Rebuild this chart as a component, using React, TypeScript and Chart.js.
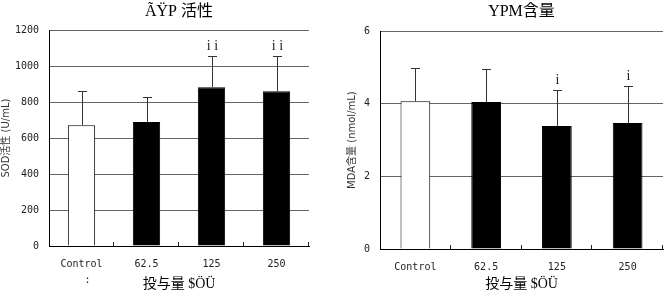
import React, { useEffect, useRef } from 'react';
import { Chart, registerables } from 'chart.js';

Chart.register(...registerables);

// ---- data ----
const categories = ['Control', '62.5', '125', '250'];
const barColors = ['#ffffff', '#000000', '#000000', '#000000'];

const sodTitle = 'ÃŸP 活性';
const sodAxisTitle = 'SOD活性 (U/mL)';
const sodValues = [672, 689, 883, 861];
const sodErrors = [189, 139, 173, 195];
const sodMarks = ['', '', 'i i', 'i i'];
const sodMin = 0;
const sodMax = 1200;
const sodStep = 200;

const mdaTitle = 'YPM含量';
const mdaAxisTitle = 'MDA含量 (nmol/mL)';
const mdaValues = [4.07, 4.05, 3.39, 3.47];
const mdaErrors = [0.93, 0.9, 0.99, 1.02];
const mdaMarks = ['', '', 'i', 'i'];
const mdaMin = 0;
const mdaMax = 6;
const mdaStep = 2;

const xAxisTitle = '投与量 $ÖÜ';
const controlNote = '  :';

const MONO = "'DejaVu Sans Mono', monospace";
const SERIF_CJK = "'Liberation Serif', 'Noto Sans CJK JP', serif";
const SANS_CJK = "'DejaVu Sans', 'Noto Sans CJK JP', sans-serif";

type PanelProps = {
  title: string;
  axisTitle: string;
  values: number[];
  errors: number[];
  marks: string[];
  min: number;
  max: number;
  step: number;
  labels: (string | string[])[];
  yAxisWidth: number;
  yTitlePad: number;
  xAxisHeight: number;
  padRight: number;
  titleBottomPad: number;
  left: number;
};

function makeExtras(values: number[], errors: number[], marks: string[]) {
  return {
    id: 'extras',
    afterDatasetsDraw(chart: any) {
      const { ctx } = chart;
      const meta = chart.getDatasetMeta(0);
      const ys = chart.scales.y;
      ctx.save();
      ctx.strokeStyle = '#333';
      ctx.lineWidth = 1;
      meta.data.forEach((bar: any, i: number) => {
        const top = Math.round(ys.getPixelForValue(values[i] + errors[i])) + 0.5;
        const x = Math.round(bar.x) + 0.5;
        ctx.beginPath();
        ctx.moveTo(x, bar.y);
        ctx.lineTo(x, top);
        ctx.moveTo(x - 4.5, top);
        ctx.lineTo(x + 4.5, top);
        ctx.stroke();
        if (marks[i]) {
          ctx.fillStyle = '#222';
          ctx.font = "14px 'Liberation Serif', serif";
          ctx.textAlign = 'center';
          ctx.textBaseline = 'bottom';
          ctx.fillText(marks[i], x, top - 3);
        }
      });
      const xs = chart.scales.x;
      const n = categories.length;
      ctx.strokeStyle = '#222';
      ctx.beginPath();
      for (let i = 1; i <= n; i++) {
        const px = Math.round(xs.left + (xs.width * i) / n) - 0.5;
        ctx.moveTo(px, xs.top);
        ctx.lineTo(px, xs.top - 4);
      }
      ctx.stroke();
      ctx.restore();
    },
  };
}

function Panel(p: PanelProps) {
  const ref = useRef<HTMLCanvasElement | null>(null);
  useEffect(() => {
    if (!ref.current) return;
    const chart = new Chart(ref.current, {
      type: 'bar',
      data: {
        labels: p.labels as any,
        datasets: [
          {
            data: p.values,
            backgroundColor: barColors,
            borderColor: '#000',
            borderWidth: 1,
            barPercentage: 1,
            categoryPercentage: 0.42,
          },
        ],
      },
      options: {
        animation: false,
        responsive: false,
        layout: { padding: { left: 0, right: p.padRight, top: 0, bottom: 0 } },
        plugins: {
          legend: { display: false },
          tooltip: { enabled: false },
          title: {
            display: true,
            text: p.title,
            fullSize: false,
            color: '#000',
            font: { family: SERIF_CJK, size: 16, weight: 'normal' },
            padding: { top: 2, bottom: p.titleBottomPad },
          },
        },
        scales: {
          x: {
            grid: { display: false },
            border: { display: true, color: '#000', width: 1 },
            ticks: {
              color: '#222',
              font: { family: MONO, size: 10, lineHeight: 1.6 },
              padding: 2,
              maxRotation: 0,
            },
            title: {
              display: true,
              text: xAxisTitle,
              color: '#000',
              font: { family: SERIF_CJK, size: 14 },
              padding: { top: 0, bottom: 3 },
            },
            afterFit: (s: any) => {
              s.height = p.xAxisHeight;
            },
          },
          y: {
            min: p.min,
            max: p.max,
            grid: { color: '#666', lineWidth: 1, drawTicks: false },
            border: { display: true, color: '#000', width: 1 },
            ticks: {
              stepSize: p.step,
              color: '#222',
              font: { family: MONO, size: 10 },
              padding: 10,
              callback: (v: any) => String(v),
            },
            title: {
              display: true,
              text: p.axisTitle,
              color: '#333',
              font: { family: SANS_CJK, size: 10 },
              padding: { top: p.yTitlePad, bottom: 0 },
            },
            afterFit: (s: any) => {
              s.width = p.yAxisWidth;
            },
          },
        },
      },
      plugins: [makeExtras(p.values, p.errors, p.marks)],
    } as any);
    return () => chart.destroy();
  }, []);
  return (
    <canvas
      ref={ref}
      width={333}
      height={296}
      style={{ position: 'absolute', left: p.left, top: 0, width: 333, height: 296 }}
    />
  );
}

export default function App() {
  const sodLabels: (string | string[])[] = categories.map((c, i) => (i === 0 ? [c, controlNote] : c));
  return (
    <div style={{ position: 'absolute', left: 0, top: 0, width: 666, height: 296, background: '#fff' }}>
      <Panel
        title={sodTitle}
        axisTitle={sodAxisTitle}
        values={sodValues}
        errors={sodErrors}
        marks={sodMarks}
        min={sodMin}
        max={sodMax}
        step={sodStep}
        labels={sodLabels}
        yAxisWidth={49}
        yTitlePad={0}
        xAxisHeight={50}
        padRight={24}
        titleBottomPad={9}
        left={0}
      />
      <Panel
        title={mdaTitle}
        axisTitle={mdaAxisTitle}
        values={mdaValues}
        errors={mdaErrors}
        marks={mdaMarks}
        min={mdaMin}
        max={mdaMax}
        step={mdaStep}
        labels={categories}
        yAxisWidth={47}
        yTitlePad={13}
        xAxisHeight={47}
        padRight={3}
        titleBottomPad={10}
        left={333}
      />
    </div>
  );
}
